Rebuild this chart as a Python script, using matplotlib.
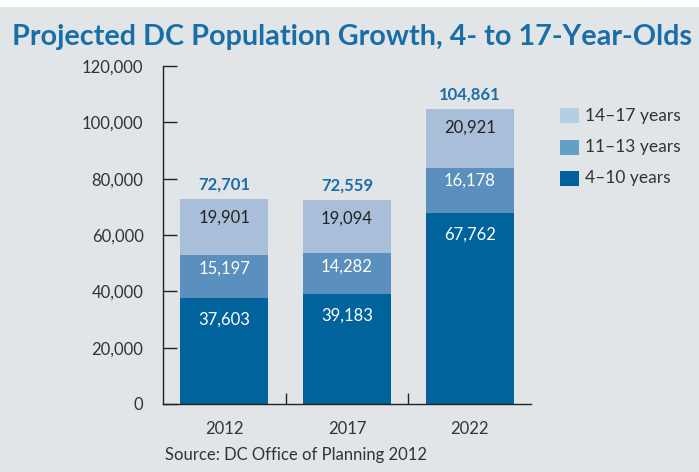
import matplotlib
matplotlib.use("Agg")
import matplotlib.pyplot as plt
from matplotlib.patches import Rectangle
from matplotlib.ticker import FuncFormatter
import numpy as np

years = ["2012", "2017", "2022"]
age_4_10 = [37603, 39183, 67762]
age_11_13 = [15197, 14282, 16178]
age_14_17 = [19901, 19094, 20921]
totals = [72701, 72559, 104861]
series_names = ["4\u201310 years", "11\u201313 years", "14\u201317 years"]

plt.rcParams['font.family'] = ['Lato', 'DejaVu Sans']

bg = "#e1e5e8"
c_dark = "#00639c"
c_mid = "#5b8fbd"
c_light = "#a9bfd9"
legend_colors = {"4\u201310 years": "#00629b", "11\u201313 years": "#62a0c8", "14\u201317 years": "#b4cfe2"}
title_color = "#1a6ea8"
text_color = "#333333"

W, H = 699, 472
fig = plt.figure(figsize=(W / 100, H / 100), dpi=100)
fig.patch.set_facecolor(bg)
fig.patches.append(Rectangle((0, 1 - 7 / H), 1, 7 / H, transform=fig.transFigure,
                             facecolor="white", edgecolor="none", zorder=0))

x0, x1 = 163, 531
y0, y1 = 404, 66
ax = fig.add_axes([x0 / W, 1 - y0 / H, (x1 - x0) / W, (y0 - y1) / H])
ax.set_facecolor(bg)

x = np.arange(len(years))
bw = 0.72
ax.bar(x, age_4_10, bw, color=c_dark, zorder=2)
ax.bar(x, age_11_13, bw, bottom=age_4_10, color=c_mid, zorder=2)
bottom3 = [a + b for a, b in zip(age_4_10, age_11_13)]
ax.bar(x, age_14_17, bw, bottom=bottom3, color=c_light, zorder=2)

fmt = lambda v: f"{v:,}"
for i in range(len(years)):
    ax.text(x[i], age_4_10[i] - 7800, fmt(age_4_10[i]), ha="center", va="center",
            color="white", fontsize=12)
    ax.text(x[i], age_4_10[i] + age_11_13[i] - 4600, fmt(age_11_13[i]), ha="center", va="center",
            color="white", fontsize=12)
    ax.text(x[i], bottom3[i] + age_14_17[i] - 6700, fmt(age_14_17[i]), ha="center", va="center",
            color="#222222", fontsize=12)
    ax.text(x[i], totals[i] + 2300, fmt(totals[i]), ha="center", va="bottom",
            color=title_color, fontsize=12, fontweight="bold")

ax.set_xlim(-0.5, 2.5)
ax.set_ylim(0, 120000)
ax.set_yticks(np.arange(0, 120001, 20000))
ax.yaxis.set_major_formatter(FuncFormatter(lambda v, p: f"{int(v):,}"))
ax.set_xticks([0.5, 1.5])
ax.set_xticklabels([])
ax.tick_params(axis="x", direction="in", length=8, width=1, color="#222222")
ax.tick_params(axis="y", direction="in", length=10, width=1, color="#222222",
               labelsize=12, labelcolor=text_color, pad=14)
for i, yr in enumerate(years):
    ax.text(x[i], -6200, yr, ha="center", va="top", fontsize=12, color=text_color)

for s in ["top", "right"]:
    ax.spines[s].set_visible(False)
for s in ["left", "bottom"]:
    ax.spines[s].set_color("#222222")
    ax.spines[s].set_linewidth(1)

fig.text(12 / W, 1 - 37 / H, "Projected DC Population Growth, 4- to 17-Year-Olds",
         fontsize=20.7, fontweight="bold", color=title_color, va="center", ha="left")
fig.text(165 / W, 1 - 455 / H, "Source: DC Office of Planning 2012", fontsize=12,
         color=text_color, va="center", ha="left")

# legend (manual, to match placement)
row_centers = [115.5, 147, 178.5]
for name, yc in zip(reversed(series_names), row_centers):
    fig.patches.append(Rectangle((560 / W, 1 - (yc + 7.5) / H), 19 / W, 15 / H,
                                 transform=fig.transFigure, facecolor=legend_colors[name],
                                 edgecolor="none"))
    fig.text(585 / W, 1 - yc / H, name, fontsize=12.5, color=text_color,
             va="center", ha="left")

fig.savefig("out.png", dpi=100, facecolor=bg)
